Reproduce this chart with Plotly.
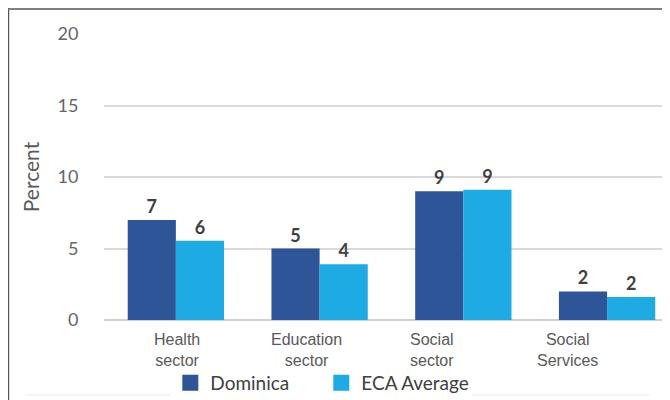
import plotly.graph_objects as go

# data
categories = ["Health sector", "Education sector", "Social sector", "Social Services"]
cat_labels = ["Health<br>sector", "Education<br>sector", "Social<br>sector", "Social<br>Services"]
dominica = [7.0, 5.0, 9.0, 2.0]
eca_avg = [5.55, 3.9, 9.1, 1.6]

col_dom = "#2E5597"
col_eca = "#1EAAE2"
lbl_font = dict(family="Lato, Open Sans, sans-serif", size=18, color="#404040")

fig = go.Figure()
fig.add_trace(go.Bar(
    x=categories, y=dominica, name="Dominica", showlegend=False,
    marker_color=col_dom, marker_line_width=0,
    text=[str(round(v)) for v in dominica], textposition="outside",
    texttemplate="<b>%{text}</b>", textfont=lbl_font, cliponaxis=False,
))
fig.add_trace(go.Bar(
    x=categories, y=eca_avg, name="ECA Average", showlegend=False,
    marker_color=col_eca, marker_line_width=0,
    text=[str(round(v)) for v in eca_avg], textposition="outside",
    texttemplate="<b>%{text}</b>", textfont=lbl_font, cliponaxis=False,
))
# legend entries with bigger squares
for name, col in [("Dominica", col_dom), ("ECA Average", col_eca)]:
    fig.add_trace(go.Scatter(x=[None], y=[None], mode="markers", name=name,
                             marker=dict(symbol="square", size=16, color=col)))

# category labels (hand placed under the groups like the original)
shifts = [1, -13, -31, -40]
for c, lab, s in zip(categories, cat_labels, shifts):
    fig.add_annotation(x=c, y=0, xref="x", yref="y", yanchor="top",
                       text=lab, showarrow=False, xshift=s, yshift=-9,
                       font=dict(family="Liberation Sans, Arial", size=16, color="#595959"))

# frame around the chart
fig.add_shape(type="line", xref="paper", yref="paper", x0=-0.17, x1=-0.17, y0=-0.3, y1=1.1,
              line=dict(color="#555555", width=1.5))
fig.add_shape(type="line", xref="paper", yref="paper", x0=-0.17, x1=1.01, y0=1.087, y1=1.087,
              line=dict(color="#808080", width=2))
fig.add_shape(type="line", xref="paper", yref="paper", x0=-0.14, x1=0.97, y0=-0.262, y1=-0.262,
              line=dict(color="#e8e8e8", width=1))

# page body has an 8px margin, so the figure is sized 8px smaller
fig.update_layout(
    width=662, height=392,
    margin=dict(l=96, r=4, t=26, b=80, autoexpand=False),
    paper_bgcolor="white", plot_bgcolor="white",
    barmode="group", bargap=0.33, bargroupgap=0,
    font=dict(family="Lato, Open Sans, sans-serif", color="#595959"),
    showlegend=True,
    legend=dict(orientation="h", x=0.118, xanchor="left", y=-0.22, yanchor="middle",
                font=dict(size=19, color="#404040"), entrywidth=106, entrywidthmode="pixels",
                traceorder="normal", itemsizing="trace"),
    xaxis=dict(range=[-0.5, 3.41], showticklabels=False, showgrid=False,
               showline=False, zeroline=False),
    yaxis=dict(range=[0, 20], dtick=5, showgrid=True, gridcolor="#d9d9d9", gridwidth=2,
               zeroline=True, zerolinecolor="#d0d0d0", zerolinewidth=2,
               showline=False, ticks="outside", ticklen=21, tickcolor="white",
               tickfont=dict(size=18, color="#666666"),
               title=dict(text="Percent", font=dict(size=21, color="#595959"), standoff=12)),
)

fig.write_html("out.html")
